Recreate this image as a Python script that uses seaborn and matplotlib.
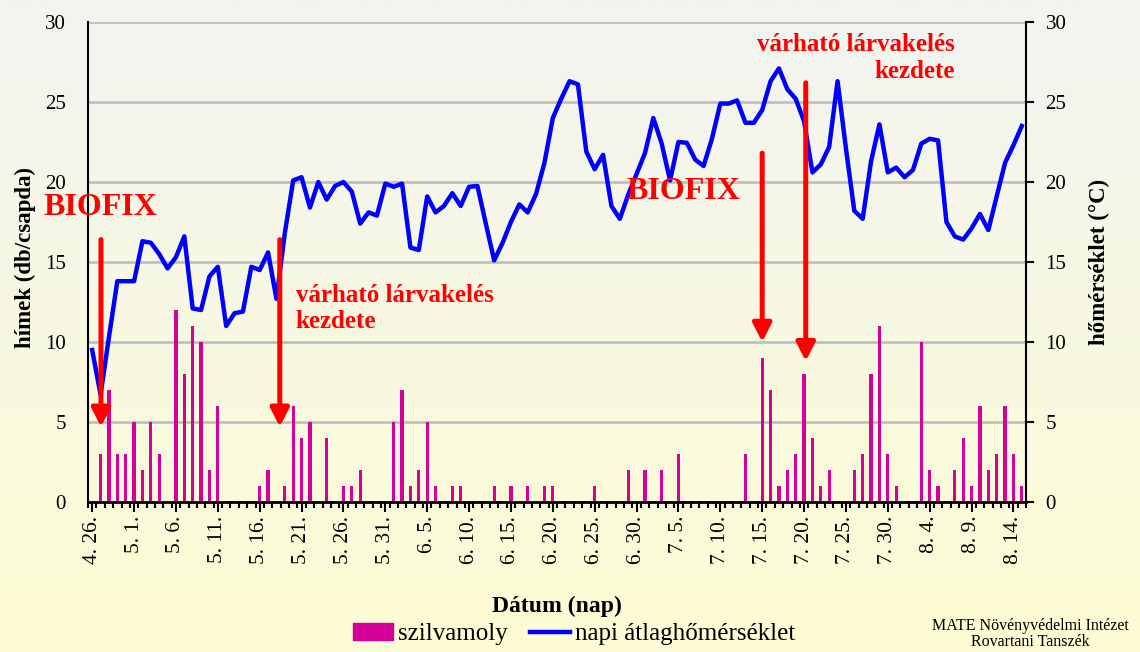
import numpy as np
import seaborn as sns
import matplotlib.pyplot as plt
from matplotlib.colors import to_rgb
from matplotlib.patches import Patch
from matplotlib.lines import Line2D

# napok (0 = 4.26.), csapdázott hímek, napi átlaghőmérséklet
days = list(range(112))
moths = [0, 3, 7, 3, 3, 5, 2, 5, 3, 0, 12, 8, 11, 10, 2, 6, 0, 0, 0, 0,
         1, 2, 0, 1, 6, 4, 5, 0, 4, 0, 1, 1, 2, 0, 0, 0, 5, 7, 1, 2,
         5, 1, 0, 1, 1, 0, 0, 0, 1, 0, 1, 0, 1, 0, 1, 1, 0, 0, 0, 0,
         1, 0, 0, 0, 2, 0, 2, 0, 2, 0, 3, 0, 0, 0, 0, 0, 0, 0, 3, 0,
         9, 7, 1, 2, 3, 8, 4, 1, 2, 0, 0, 2, 3, 8, 11, 3, 1, 0, 0, 10,
         2, 1, 0, 2, 4, 1, 6, 2, 3, 6, 3, 1]
temp = [9.5, 6.7, 10.3, 13.8, 13.8, 13.8, 16.3, 16.2, 15.5, 14.6,
        15.3, 16.6, 12.1, 12.0, 14.1, 14.7, 11.0, 11.8, 11.9, 14.7,
        14.5, 15.6, 12.7, 16.8, 20.1, 20.3, 18.4, 20.0, 18.9, 19.75,
        20.0, 19.4, 17.4, 18.1, 17.9, 19.9, 19.7, 19.9, 15.9, 15.75,
        19.1, 18.1, 18.5, 19.3, 18.5, 19.7, 19.75, 17.4, 15.1, 16.2,
        17.5, 18.6, 18.1, 19.25, 21.2, 24.0, 25.2, 26.3, 26.1, 21.9,
        20.8, 21.7, 18.5, 17.7, 19.2, 20.5, 21.8, 24.0, 22.4, 20.1,
        22.5, 22.45, 21.4, 21.0, 22.7, 24.9, 24.9, 25.1, 23.7, 23.7,
        24.5, 26.3, 27.1, 25.8, 25.2, 23.8, 20.6, 21.1, 22.2, 26.3,
        22.1, 18.2, 17.7, 21.3, 23.6, 20.6, 20.9, 20.3, 20.75, 22.4,
        22.7, 22.6, 17.5, 16.6, 16.4, 17.1, 18.0, 17.0, 19.1, 21.2,
        22.3, 23.5]
date_labels = ["4. 26.", "5. 1.", "5. 6.", "5. 11.", "5. 16.", "5. 21.", "5. 26.",
               "5. 31.", "6. 5.", "6. 10.", "6. 15.", "6. 20.", "6. 25.", "6. 30.",
               "7. 5.", "7. 10.", "7. 15.", "7. 20.", "7. 25.", "7. 30.", "8. 4.",
               "8. 9.", "8. 14."]
label_pos = list(range(0, 111, 5))

plt.rcParams['font.family'] = ['Liberation Serif', 'DejaVu Serif']

fig = plt.figure(figsize=(11.4, 6.52), dpi=100)

# háttér színátmenet
top_c, bot_c = np.array(to_rgb('#f2f4f1')), np.array(to_rgb('#fdfcd3'))
t = np.linspace(0, 1, 256)[:, None, None]
grad = top_c * (1 - t) + bot_c * t
bg = fig.add_axes([0, 0, 1, 1], zorder=-10)
bg.imshow(grad, aspect='auto', extent=[0, 1, 0, 1])
bg.axis('off')

ax = fig.add_axes([88 / 1140, 1 - 502 / 652, 938 / 1140, 480 / 652])
ax.patch.set_alpha(0)
sns.barplot(x=days, y=moths, ax=ax, color='#d4009a', saturation=1,
            width=0.38, linewidth=0, errorbar=None)
ax.set_xlim(-0.5, 111.5)
ax.set_ylim(0, 30)
ax.set_yticks(range(0, 31, 5))
ax.set_axisbelow(True)
ax.yaxis.grid(True, color='#c0c0c0', linewidth=2)
ax.set_xticks(label_pos, date_labels, rotation=90, fontsize=15.5)
ax.set_xticks(np.arange(-0.5, 112, 1), minor=True)
ax.tick_params(axis='x', which='major', length=7, width=1.5, pad=3)
ax.tick_params(axis='x', which='minor', length=4, width=1.5)
ax.tick_params(axis='y', length=0, pad=16, labelsize=15)
for s in ['top', 'right']:
    ax.spines[s].set_visible(False)
ax.spines['left'].set_linewidth(1.5)
ax.spines['bottom'].set_linewidth(2)
ax.set_xlabel('Dátum (nap)', fontsize=17, fontweight='bold')
ax.xaxis.set_label_coords(0.5, -0.196)
ax.set_ylabel('hímek (db/csapda)', fontsize=16.5, fontweight='bold')
ax.yaxis.set_label_coords(-0.055, 0.51)

ax2 = ax.twinx()
sns.lineplot(x=days, y=temp, ax=ax2, color='#0000ff', linewidth=3.2)
ax2.set_xlim(-0.5, 111.5)
ax2.set_ylim(0, 30)
ax2.set_yticks(range(0, 31, 5))
ax2.tick_params(axis='y', length=6, width=1.5, pad=8, labelsize=15)
ax2.spines['top'].set_visible(False)
ax2.spines['left'].set_visible(False)
ax2.spines['bottom'].set_visible(False)
ax2.spines['right'].set_linewidth(1.5)
ax2.set_ylabel('hőmérséklet (°C)', fontsize=16.5, fontweight='bold')
ax2.yaxis.set_label_coords(1.067, 0.5)

# nyilak és feliratok
arrow_x = [1.05, 22.4, 80.0, 85.2]
arrow_top = [16.4, 16.4, 21.8, 26.2]
arrow_tip = [4.7, 4.7, 10.0, 8.8]
for xa, y0, y1 in zip(arrow_x, arrow_top, arrow_tip):
    ax2.annotate('', xy=(xa, y1), xytext=(xa, y0),
                 arrowprops=dict(arrowstyle='-|>,head_length=0.55,head_width=0.28',
                                 color='#ff0000', lw=3.6, mutation_scale=20,
                                 shrinkA=0, shrinkB=0))

red = dict(color='#ff0000', fontweight='bold')
ax2.text(0.93, 18.4, 'BIOFIX', fontsize=23, ha='center', va='center', **red)
ax2.text(70.6, 19.4, 'BIOFIX', fontsize=23, ha='center', va='center', **red)
ax2.text(24.3, 12.1, 'várható lárvakelés\nkezdete', fontsize=18, ha='left',
         va='center', linespacing=1.2, **red)
ax2.text(103.0, 27.75, 'várható lárvakelés\nkezdete', fontsize=18, ha='right',
         va='center', multialignment='right', linespacing=1.2, **red)

handles = [Patch(color='#d4009a'), Line2D([], [], color='#0000ff', lw=3.2)]
fig.legend(handles, ['szilvamoly', 'napi átlaghőmérséklet'], loc='center',
           bbox_to_anchor=(574 / 1140, 1 - 634 / 652), ncol=2, frameon=False,
           fontsize=18, handlelength=1.6, handletextpad=0.2, columnspacing=0.9)

fig.text(1030 / 1140, 1 - 626 / 652, 'MATE Növényvédelmi Intézet', fontsize=11.5,
         ha='center', va='center')
fig.text(1030 / 1140, 1 - 642 / 652, 'Rovartani Tanszék', fontsize=11.5,
         ha='center', va='center')

fig.savefig('out.png', dpi=100)
